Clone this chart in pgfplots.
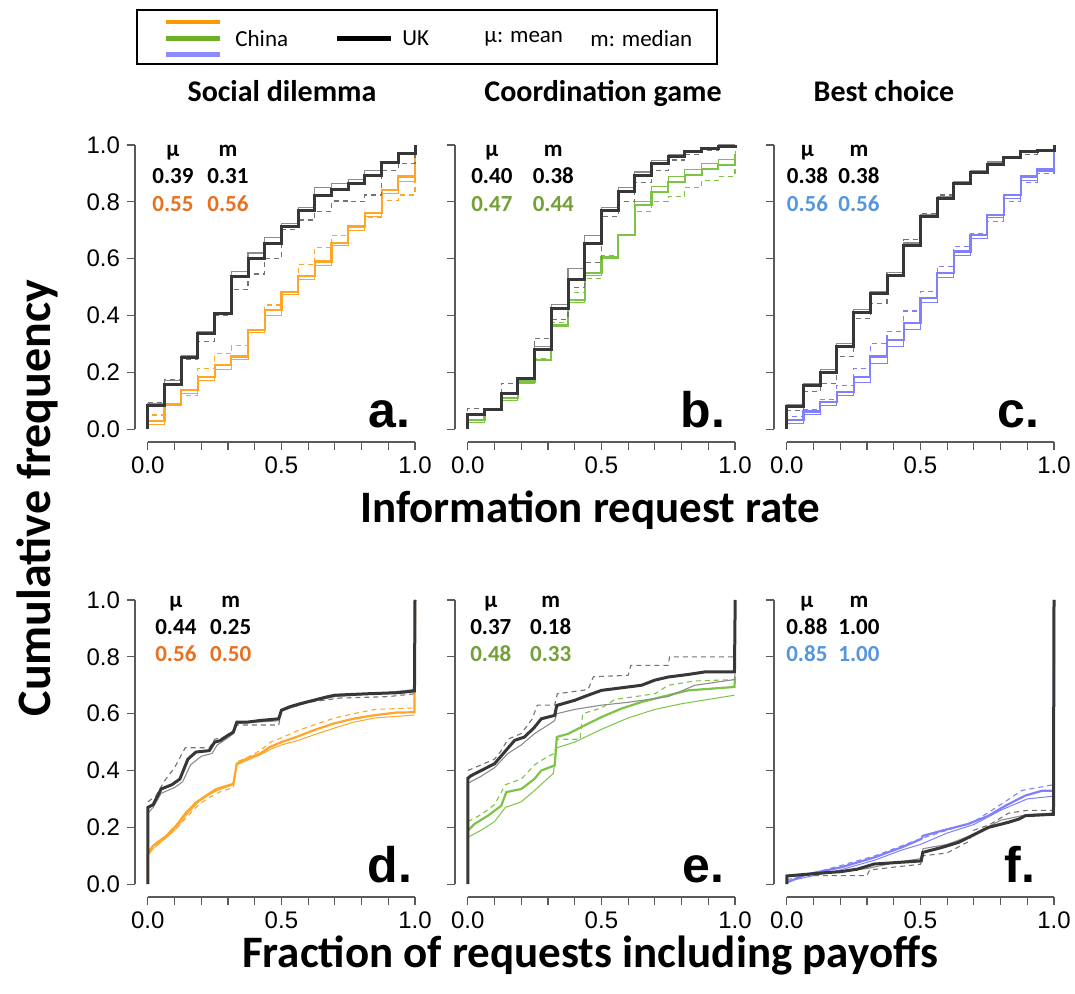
\documentclass[border=0pt]{standalone}
\usepackage{fontspec}
\setmainfont{Carlito}
\newfontfamily\arialfont{Liberation Sans}
\usepackage{pgfplots}
\usepackage{pgfplotstable}
\pgfplotsset{compat=1.18}

\definecolor{ukthick}{RGB}{55,55,55}
\definecolor{ukthin}{RGB}{140,140,140}
\definecolor{ukdash}{RGB}{115,115,115}
\definecolor{cnorange}{RGB}{255,165,40}
\definecolor{cngreen}{RGB}{125,195,70}
\definecolor{cnblue}{RGB}{128,128,255}
\definecolor{txtorange}{RGB}{232,112,30}
\definecolor{txtgreen}{RGB}{115,160,55}
\definecolor{txtblue}{RGB}{85,150,220}
\definecolor{legorange}{RGB}{255,153,0}
\definecolor{leggreen}{RGB}{110,175,35}
\definecolor{legblue}{RGB}{140,140,255}
\definecolor{axisgrey}{RGB}{90,90,90}

\tikzset{
 ukT/.style={ukthick, line width=1.5pt},
 ukt/.style={ukthin, line width=0.55pt},
 ukd/.style={ukdash, line width=0.55pt, dash pattern=on 2.5pt off 2pt},
 cnT/.style={line width=1.1pt},
 cnt/.style={line width=0.5pt},
 cnd/.style={line width=0.55pt, dash pattern=on 2.5pt off 2pt},
 stat/.style={font=\bfseries\fontsize{11.5}{13}\selectfont, anchor=base, inner sep=0pt},
 plab/.style={font=\arialfont\bfseries\fontsize{25}{30}\selectfont, anchor=base east, inner sep=0pt},
 legtxt/.style={anchor=west, inner sep=0pt, font=\fontsize{11.5}{13}\selectfont},
}

\pgfplotsset{panel/.style={
 scale only axis, width=140pt, height=148.5pt,
 xmin=-0.048, xmax=1, ymin=-0.045, ymax=1,
 clip=false,
 axis x line*=bottom, axis y line*=left,
 axis line style={draw=none},
 tick align=outside, major tick length=4pt,
 every tick/.style={axisgrey, line width=0.6pt},
 xtick={0,0.1,0.2,0.3,0.4,0.5,0.6,0.7,0.8,0.9,1},
 xticklabels={0.0,,,,,0.5,,,,,1.0},
 ytick={0,0.2,0.4,0.6,0.8,1},
 yticklabels={},
 tick label style={font=\arialfont\fontsize{12}{14}\selectfont, text=black},
 /pgf/number format/assume math mode=true,
 anchor=south west,
 every axis plot/.append style={no markers},
}}

\newcommand{\axlines}{%
 \draw[axisgrey, line width=0.6pt] (axis cs:0,-0.045) -- (axis cs:1,-0.045);
 \draw[axisgrey, line width=0.6pt] (axis cs:-0.048,0) -- (axis cs:-0.048,1);
}

\pgfplotstableread{
x ukT ukt ukd cnT cnt cnd
0 0 0 0 0 0 0
0 0.082 0.09 0.095 0.03 0.015 0.05
0.0625 0.156 0.17 0.175 0.089 0.085 0.085
0.125 0.253 0.26 0.244 0.138 0.125 0.12
0.1875 0.335 0.345 0.308 0.185 0.17 0.214
0.25 0.408 0.41 0.40 0.226 0.21 0.265
0.3125 0.539 0.555 0.49 0.256 0.245 0.293
0.375 0.601 0.62 0.546 0.349 0.34 0.35
0.4375 0.654 0.675 0.60 0.42 0.40 0.437
0.5 0.713 0.725 0.703 0.484 0.475 0.48
0.5625 0.768 0.78 0.736 0.539 0.525 0.578
0.625 0.824 0.85 0.765 0.59 0.575 0.64
0.6875 0.842 0.865 0.803 0.654 0.645 0.683
0.75 0.865 0.88 0.80 0.713 0.70 0.713
0.8125 0.894 0.91 0.824 0.76 0.75 0.746
0.875 0.938 0.94 0.91 0.842 0.83 0.806
0.9375 0.971 0.975 0.935 0.889 0.87 0.824
1 1.0 1.0 0.99 0.97 0.96 0.92
}\tabA

\pgfplotstableread{
x ukT ukt ukd cnT cnt cnd
0 0 0 0 0 0 0
0 0.05 0.055 0.074 0.033 0.025 0.035
0.0625 0.068 0.07 0.068 0.068 0.065 0.07
0.125 0.127 0.13 0.162 0.109 0.10 0.11
0.1875 0.179 0.18 0.18 0.168 0.16 0.17
0.25 0.279 0.29 0.32 0.244 0.24 0.25
0.3125 0.426 0.44 0.387 0.367 0.36 0.375
0.375 0.525 0.565 0.50 0.455 0.445 0.48
0.4375 0.652 0.68 0.586 0.549 0.54 0.53
0.5 0.771 0.78 0.748 0.607 0.60 0.61
0.5625 0.836 0.85 0.80 0.683 0.68 0.685
0.625 0.894 0.905 0.868 0.79 0.80 0.765
0.6875 0.935 0.945 0.91 0.835 0.855 0.80
0.75 0.959 0.965 0.947 0.87 0.89 0.82
0.8125 0.977 0.98 0.965 0.895 0.915 0.85
0.875 0.988 0.99 0.982 0.915 0.935 0.875
0.9375 0.996 1.0 0.99 0.93 0.95 0.89
1 1.0 1.0 1.0 0.97 0.98 0.92
}\tabB

\pgfplotstableread{
x ukT ukt ukd cnT cnt cnd
0 0 0 0 0 0 0
0 0.08 0.085 0.066 0.033 0.02 0.045
0.0625 0.152 0.16 0.132 0.062 0.05 0.07
0.125 0.199 0.21 0.162 0.097 0.085 0.105
0.1875 0.291 0.30 0.256 0.132 0.12 0.155
0.25 0.41 0.42 0.39 0.185 0.165 0.215
0.3125 0.476 0.485 0.443 0.256 0.23 0.302
0.375 0.54 0.55 0.54 0.314 0.29 0.343
0.4375 0.645 0.655 0.666 0.373 0.35 0.416
0.5 0.748 0.755 0.76 0.461 0.445 0.484
0.5625 0.812 0.82 0.824 0.549 0.535 0.572
0.625 0.863 0.87 0.867 0.625 0.61 0.642
0.6875 0.904 0.91 0.904 0.683 0.67 0.69
0.75 0.933 0.94 0.936 0.754 0.745 0.73
0.8125 0.955 0.96 0.959 0.824 0.81 0.80
0.875 0.977 0.98 0.968 0.889 0.875 0.867
0.9375 0.982 0.985 0.976 0.914 0.905 0.90
1 1.0 1.0 0.99 0.99 0.98 0.97
}\tabC

\begin{document}
\begin{tikzpicture}
\useasboundingbox (0,0) rectangle (537.5pt,497pt);

% legend
\draw[black, line width=0.8pt] (68.5pt,465pt) rectangle (358.5pt,492pt);
\draw[legorange, line width=2.4pt] (83pt,486pt) -- (110pt,486pt);
\draw[leggreen, line width=2.4pt] (83pt,477.75pt) -- (110pt,477.75pt);
\draw[legblue, line width=2.4pt] (83pt,469.75pt) -- (110pt,469.75pt);
\node[legtxt] at (117.5pt,477.75pt) {China};
\draw[black, line width=2.4pt] (168.5pt,477.75pt) -- (195.5pt,477.75pt);
\node[legtxt] at (201pt,477.75pt) {UK};
\node[legtxt] at (242pt,477.75pt) {μ: mean};
\node[legtxt] at (295pt,477.75pt) {m: median};

% titles
\node[anchor=base, inner sep=0pt, font=\bfseries\fontsize{15}{18}\selectfont] at (141pt,446pt) {Social dilemma};
\node[anchor=base, inner sep=0pt, font=\bfseries\fontsize{15}{18}\selectfont] at (301.5pt,446pt) {Coordination game};
\node[anchor=base, inner sep=0pt, font=\bfseries\fontsize{15}{18}\selectfont] at (442pt,446pt) {Best choice};
\node[anchor=base, inner sep=0pt, font=\bfseries\fontsize{22.5}{26}\selectfont] at (295pt,235.5pt) {Information request rate};
\node[anchor=base, inner sep=0pt, font=\bfseries\fontsize{22.5}{26}\selectfont] at (295pt,13pt) {Fraction of requests including payoffs};
\node[anchor=base, inner sep=0pt, rotate=90, font=\bfseries\fontsize{24}{28}\selectfont] at (25pt,248pt) {Cumulative frequency};

% ---------- panel a
\begin{axis}[panel, at={(67.5pt,276pt)}, yticklabels={0.0,0.2,0.4,0.6,0.8,1.0}]
\axlines
\addplot[const plot, cnorange, cnd] table[x=x,y=cnd] {\tabA};
\addplot[const plot, cnorange, cnt] table[x=x,y=cnt] {\tabA};
\addplot[const plot, cnorange, cnT] table[x=x,y=cnT] {\tabA};
\addplot[const plot, ukd] table[x=x,y=ukd] {\tabA};
\addplot[const plot, ukt] table[x=x,y=ukt] {\tabA};
\addplot[const plot, ukT] table[x=x,y=ukT] {\tabA};
\node[stat] at (axis cs:0.094,0.958) {μ};
\node[stat] at (axis cs:0.30,0.958) {m};
\node[stat] at (axis cs:0.094,0.863) {0.39};
\node[stat] at (axis cs:0.30,0.863) {0.31};
\node[stat, text=txtorange] at (axis cs:0.094,0.766) {0.55};
\node[stat, text=txtorange] at (axis cs:0.30,0.766) {0.56};
\node[plab] at (axis cs:0.985,0.005) {a.};
\end{axis}

% ---------- panel b
\begin{axis}[panel, at={(227.5pt,276pt)}]
\axlines
\addplot[const plot, cngreen, cnd] table[x=x,y=cnd] {\tabB};
\addplot[const plot, cngreen, cnt] table[x=x,y=cnt] {\tabB};
\addplot[const plot, cngreen, cnT] table[x=x,y=cnT] {\tabB};
\addplot[const plot, ukd] table[x=x,y=ukd] {\tabB};
\addplot[const plot, ukt] table[x=x,y=ukt] {\tabB};
\addplot[const plot, ukT] table[x=x,y=ukT] {\tabB};
\node[stat] at (axis cs:0.09,0.958) {μ};
\node[stat] at (axis cs:0.32,0.958) {m};
\node[stat] at (axis cs:0.09,0.863) {0.40};
\node[stat] at (axis cs:0.32,0.863) {0.38};
\node[stat, text=txtgreen] at (axis cs:0.09,0.766) {0.47};
\node[stat, text=txtgreen] at (axis cs:0.32,0.766) {0.44};
\node[plab] at (axis cs:0.965,0.005) {b.};
\end{axis}

% ---------- panel c
\begin{axis}[panel, at={(387pt,276pt)}]
\axlines
\addplot[const plot, cnblue, cnd] table[x=x,y=cnd] {\tabC};
\addplot[const plot, cnblue, cnt] table[x=x,y=cnt] {\tabC};
\addplot[const plot, cnblue, cnT] table[x=x,y=cnT] {\tabC};
\addplot[const plot, ukd] table[x=x,y=ukd] {\tabC};
\addplot[const plot, ukt] table[x=x,y=ukt] {\tabC};
\addplot[const plot, ukT] table[x=x,y=ukT] {\tabC};
\node[stat] at (axis cs:0.077,0.958) {μ};
\node[stat] at (axis cs:0.27,0.958) {m};
\node[stat] at (axis cs:0.077,0.863) {0.38};
\node[stat] at (axis cs:0.27,0.863) {0.38};
\node[stat, text=txtblue] at (axis cs:0.077,0.766) {0.56};
\node[stat, text=txtblue] at (axis cs:0.27,0.766) {0.56};
\node[plab] at (axis cs:0.945,0.005) {c.};
\end{axis}

% ---------- panel d
\begin{axis}[panel, at={(67.5pt,48.5pt)}, yticklabels={0.0,0.2,0.4,0.6,0.8,1.0}]
\axlines
\addplot[cnorange, cnd] coordinates {(0,0.12) (0.03,0.135) (0.07,0.165) (0.11,0.2) (0.15,0.24) (0.19,0.28) (0.23,0.305) (0.27,0.325) (0.32,0.34) (0.333,0.43) (0.37,0.445) (0.42,0.47) (0.46,0.5) (0.5,0.515) (0.56,0.54) (0.62,0.56) (0.7,0.585) (0.77,0.60) (0.85,0.615) (0.998,0.62)};
\addplot[cnorange, cnt] coordinates {(0,0.10) (0.02,0.125) (0.07,0.165) (0.11,0.2) (0.15,0.25) (0.19,0.29) (0.23,0.315) (0.26,0.33) (0.32,0.35) (0.333,0.42) (0.37,0.435) (0.42,0.455) (0.46,0.475) (0.5,0.49) (0.56,0.505) (0.62,0.525) (0.7,0.55) (0.77,0.57) (0.85,0.585) (0.998,0.595)};
\addplot[cnorange, cnT] coordinates {(0,0) (0,0.106) (0.019,0.135) (0.069,0.17) (0.106,0.206) (0.144,0.253) (0.181,0.288) (0.219,0.312) (0.256,0.335) (0.32,0.353) (0.333,0.424) (0.369,0.441) (0.419,0.459) (0.456,0.482) (0.5,0.50) (0.556,0.518) (0.619,0.541) (0.694,0.565) (0.769,0.582) (0.844,0.594) (0.931,0.604) (0.998,0.605) (1,1)};
\addplot[ukd] coordinates {(0,0.29) (0.03,0.31) (0.06,0.36) (0.1,0.41) (0.14,0.48) (0.23,0.48) (0.25,0.51) (0.3,0.52) (0.32,0.535) (0.333,0.56) (0.49,0.56) (0.5,0.61) (0.6,0.64) (0.72,0.655) (0.9,0.66) (0.998,0.67) (1,1)};
\addplot[ukt] coordinates {(0,0.25) (0.02,0.27) (0.05,0.32) (0.1,0.34) (0.13,0.36) (0.16,0.42) (0.2,0.45) (0.24,0.46) (0.26,0.49) (0.3,0.515) (0.32,0.53) (0.333,0.565) (0.4,0.57) (0.49,0.575) (0.5,0.61) (0.6,0.64) (0.7,0.66) (0.85,0.67) (0.998,0.685) (1,1)};
\addplot[ukT] coordinates {(0,0) (0,0.27) (0.02,0.28) (0.05,0.335) (0.09,0.35) (0.12,0.37) (0.15,0.44) (0.18,0.465) (0.23,0.47) (0.25,0.50) (0.27,0.505) (0.30,0.524) (0.32,0.535) (0.333,0.57) (0.37,0.57) (0.42,0.576) (0.49,0.582) (0.50,0.612) (0.53,0.624) (0.57,0.635) (0.62,0.647) (0.67,0.659) (0.70,0.665) (0.82,0.67) (0.94,0.674) (0.998,0.68) (1,1)};
\node[stat] at (axis cs:0.105,0.972) {μ};
\node[stat] at (axis cs:0.31,0.972) {m};
\node[stat] at (axis cs:0.105,0.877) {0.44};
\node[stat] at (axis cs:0.31,0.877) {0.25};
\node[stat, text=txtorange] at (axis cs:0.105,0.784) {0.56};
\node[stat, text=txtorange] at (axis cs:0.31,0.784) {0.50};
\node[plab] at (axis cs:0.99,0.005) {d.};
\end{axis}

% ---------- panel e
\begin{axis}[panel, at={(227.5pt,48.5pt)}]
\axlines
\addplot[cngreen, cnd] coordinates {(0,0.22) (0.05,0.245) (0.1,0.28) (0.14,0.35) (0.2,0.37) (0.25,0.42) (0.3,0.45) (0.325,0.46) (0.333,0.51) (0.42,0.51) (0.43,0.60) (0.5,0.62) (0.55,0.65) (0.7,0.67) (0.75,0.70) (0.85,0.715) (0.998,0.72)};
\addplot[cngreen, cnt] coordinates {(0,0.165) (0.05,0.19) (0.1,0.22) (0.14,0.27) (0.2,0.29) (0.25,0.33) (0.32,0.39) (0.333,0.48) (0.4,0.50) (0.5,0.545) (0.6,0.585) (0.7,0.615) (0.8,0.635) (0.998,0.665)};
\addplot[cngreen, cnT] coordinates {(0,0.188) (0.025,0.212) (0.075,0.241) (0.125,0.276) (0.144,0.324) (0.2,0.335) (0.25,0.371) (0.275,0.40) (0.325,0.418) (0.333,0.518) (0.375,0.529) (0.425,0.553) (0.5,0.588) (0.575,0.618) (0.65,0.641) (0.725,0.659) (0.825,0.682) (0.998,0.694) (1,0.73)};
\addplot[ukd] coordinates {(0,0.40) (0.05,0.42) (0.1,0.44) (0.125,0.47) (0.15,0.51) (0.2,0.53) (0.24,0.58) (0.26,0.63) (0.325,0.63) (0.335,0.67) (0.45,0.685) (0.47,0.73) (0.6,0.735) (0.61,0.77) (0.75,0.77) (0.755,0.80) (0.998,0.80)};
\addplot[ukt] coordinates {(0,0.355) (0.05,0.38) (0.1,0.41) (0.15,0.46) (0.2,0.49) (0.25,0.53) (0.3,0.56) (0.325,0.576) (0.333,0.60) (0.4,0.615) (0.5,0.63) (0.6,0.64) (0.75,0.66) (0.85,0.70) (0.998,0.72) (1,0.74)};
\addplot[ukT] coordinates {(0,0) (0,0.373) (0.0125,0.382) (0.05,0.40) (0.1,0.424) (0.1375,0.465) (0.175,0.506) (0.2125,0.518) (0.25,0.553) (0.275,0.582) (0.325,0.594) (0.333,0.629) (0.4,0.647) (0.45,0.665) (0.5,0.682) (0.575,0.691) (0.65,0.70) (0.7,0.718) (0.75,0.729) (0.825,0.738) (0.8875,0.747) (0.998,0.747) (1,0.935) (1,1)};
\node[stat] at (axis cs:0.086,0.972) {μ};
\node[stat] at (axis cs:0.31,0.972) {m};
\node[stat] at (axis cs:0.086,0.877) {0.37};
\node[stat] at (axis cs:0.31,0.877) {0.18};
\node[stat, text=txtgreen] at (axis cs:0.086,0.784) {0.48};
\node[stat, text=txtgreen] at (axis cs:0.31,0.784) {0.33};
\node[plab] at (axis cs:0.96,0.005) {e.};
\end{axis}

% ---------- panel f
\begin{axis}[panel, at={(387pt,48.5pt)}]
\axlines
\addplot[cnblue, cnd] coordinates {(0,0.015) (0.1,0.04) (0.2,0.065) (0.33,0.1) (0.43,0.135) (0.5,0.16) (0.6,0.19) (0.7,0.22) (0.8,0.28) (0.88,0.33) (0.998,0.35)};
\addplot[cnblue, cnt] coordinates {(0,0.01) (0.1,0.03) (0.2,0.05) (0.33,0.085) (0.43,0.12) (0.5,0.14) (0.6,0.18) (0.7,0.21) (0.8,0.26) (0.9,0.3) (0.998,0.31)};
\addplot[cnblue, cnT] coordinates {(0,0) (0,0.006) (0.075,0.035) (0.201,0.059) (0.327,0.094) (0.428,0.129) (0.503,0.159) (0.509,0.17) (0.579,0.188) (0.679,0.212) (0.755,0.241) (0.818,0.276) (0.893,0.312) (0.956,0.329) (0.998,0.329) (1,0.9) (1,1)};
\addplot[ukd] coordinates {(0,0.03) (0.3,0.03) (0.31,0.05) (0.4,0.06) (0.5,0.07) (0.51,0.10) (0.6,0.11) (0.68,0.15) (0.7,0.19) (0.76,0.21) (0.83,0.25) (0.9,0.26) (0.998,0.26)};
\addplot[ukt] coordinates {(0,0.03) (0.15,0.04) (0.3,0.055) (0.4,0.075) (0.5,0.09) (0.51,0.125) (0.6,0.14) (0.7,0.175) (0.8,0.225) (0.9,0.245) (0.998,0.25)};
\addplot[ukT] coordinates {(0,0) (0,0.029) (0.151,0.041) (0.201,0.044) (0.264,0.053) (0.327,0.071) (0.503,0.082) (0.509,0.112) (0.579,0.129) (0.642,0.147) (0.704,0.176) (0.755,0.20) (0.83,0.218) (0.868,0.229) (0.893,0.241) (0.998,0.246) (1,1)};
\node[stat] at (axis cs:0.075,0.972) {μ};
\node[stat] at (axis cs:0.27,0.972) {m};
\node[stat] at (axis cs:0.075,0.877) {0.88};
\node[stat] at (axis cs:0.27,0.877) {1.00};
\node[stat, text=txtblue] at (axis cs:0.075,0.784) {0.85};
\node[stat, text=txtblue] at (axis cs:0.27,0.784) {1.00};
\node[plab] at (axis cs:0.93,0.005) {f.};
\end{axis}
\end{tikzpicture}
\end{document}
